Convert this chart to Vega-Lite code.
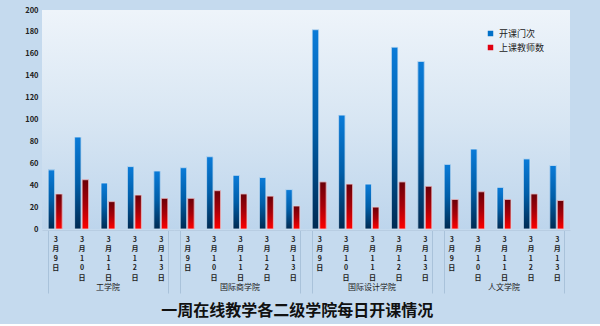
{
  "$schema": "https://vega.github.io/schema/vega-lite/v6.json",
  "background": "#c5daee",
  "padding": {"left": 24, "top": 6, "right": 31, "bottom": 5},
  "data": {"values": [
    {"college": "工学院", "date": "3月9日", "series": "开课门次", "value": 54},
    {"college": "工学院", "date": "3月9日", "series": "上课教师数", "value": 32},
    {"college": "工学院", "date": "3月10日", "series": "开课门次", "value": 84},
    {"college": "工学院", "date": "3月10日", "series": "上课教师数", "value": 45},
    {"college": "工学院", "date": "3月11日", "series": "开课门次", "value": 42},
    {"college": "工学院", "date": "3月11日", "series": "上课教师数", "value": 25},
    {"college": "工学院", "date": "3月12日", "series": "开课门次", "value": 57},
    {"college": "工学院", "date": "3月12日", "series": "上课教师数", "value": 31},
    {"college": "工学院", "date": "3月13日", "series": "开课门次", "value": 53},
    {"college": "工学院", "date": "3月13日", "series": "上课教师数", "value": 28},
    {"college": "国际商学院", "date": "3月9日", "series": "开课门次", "value": 56},
    {"college": "国际商学院", "date": "3月9日", "series": "上课教师数", "value": 28},
    {"college": "国际商学院", "date": "3月10日", "series": "开课门次", "value": 66},
    {"college": "国际商学院", "date": "3月10日", "series": "上课教师数", "value": 35},
    {"college": "国际商学院", "date": "3月11日", "series": "开课门次", "value": 49},
    {"college": "国际商学院", "date": "3月11日", "series": "上课教师数", "value": 32},
    {"college": "国际商学院", "date": "3月12日", "series": "开课门次", "value": 47},
    {"college": "国际商学院", "date": "3月12日", "series": "上课教师数", "value": 30},
    {"college": "国际商学院", "date": "3月13日", "series": "开课门次", "value": 36},
    {"college": "国际商学院", "date": "3月13日", "series": "上课教师数", "value": 21},
    {"college": "国际设计学院", "date": "3月9日", "series": "开课门次", "value": 182},
    {"college": "国际设计学院", "date": "3月9日", "series": "上课教师数", "value": 43},
    {"college": "国际设计学院", "date": "3月10日", "series": "开课门次", "value": 104},
    {"college": "国际设计学院", "date": "3月10日", "series": "上课教师数", "value": 41},
    {"college": "国际设计学院", "date": "3月11日", "series": "开课门次", "value": 41},
    {"college": "国际设计学院", "date": "3月11日", "series": "上课教师数", "value": 20},
    {"college": "国际设计学院", "date": "3月12日", "series": "开课门次", "value": 166},
    {"college": "国际设计学院", "date": "3月12日", "series": "上课教师数", "value": 43},
    {"college": "国际设计学院", "date": "3月13日", "series": "开课门次", "value": 153},
    {"college": "国际设计学院", "date": "3月13日", "series": "上课教师数", "value": 39},
    {"college": "人文学院", "date": "3月9日", "series": "开课门次", "value": 59},
    {"college": "人文学院", "date": "3月9日", "series": "上课教师数", "value": 27},
    {"college": "人文学院", "date": "3月10日", "series": "开课门次", "value": 73},
    {"college": "人文学院", "date": "3月10日", "series": "上课教师数", "value": 34},
    {"college": "人文学院", "date": "3月11日", "series": "开课门次", "value": 38},
    {"college": "人文学院", "date": "3月11日", "series": "上课教师数", "value": 27},
    {"college": "人文学院", "date": "3月12日", "series": "开课门次", "value": 64},
    {"college": "人文学院", "date": "3月12日", "series": "上课教师数", "value": 32},
    {"college": "人文学院", "date": "3月13日", "series": "开课门次", "value": 58},
    {"college": "人文学院", "date": "3月13日", "series": "上课教师数", "value": 26}
  ]},
  "facet": {
    "column": {
      "field": "college",
      "type": "nominal",
      "sort": ["工学院", "国际商学院", "国际设计学院", "人文学院"],
      "title": null,
      "header": {"labelOrient": "bottom", "labelFontSize": 8, "labelColor": "#222222", "labelPadding": -10}
    }
  },
  "spacing": 0,
  "spec": {
    "width": 132,
    "height": 219,
    "encoding": {
      "x": {
        "field": "date",
        "type": "nominal",
        "sort": ["3月9日", "3月10日", "3月11日", "3月12日", "3月13日"],
        "scale": {"paddingInner": 0.47, "paddingOuter": 0.235},
        "axis": {
          "title": null,
          "labelAngle": 0,
          "labelExpr": "split(datum.label, '')",
          "labelBaseline": "top",
          "labelLineHeight": 9.5,
          "labelFontSize": 7,
          "labelFontWeight": "bold",
          "labelColor": "#222222",
          "labelPadding": -58,
          "domainColor": "#b8cde2",
          "ticks": true,
          "tickBand": "extent",
          "tickSize": 63,
          "tickColor": "#a9c2da",
          "tickOpacity": {"condition": {"test": "datum.value != '3月9日' && datum.value != '3月10日' && datum.value != '3月11日' && datum.value != '3月12日'", "value": 1}, "value": 0},
          "grid": false
        }
      },
      "xOffset": {"field": "series", "type": "nominal", "sort": ["开课门次", "上课教师数"], "scale": {"domain": ["开课门次", "上课教师数"], "paddingInner": 0.14}},
      "y": {
        "field": "value",
        "type": "quantitative",
        "scale": {"domain": [0, 200]},
        "axis": {"title": null, "values": [0, 20, 40, 60, 80, 100, 120, 140, 160, 180, 200], "domain": false, "ticks": false, "grid": false, "labelFontSize": 7.5, "labelFontWeight": "bold", "labelColor": "#222222", "labelPadding": 4}
      }
    },
    "layer": [
      {
        "mark": {"type": "bar"},
        "encoding": {
          "color": {
            "field": "series",
            "type": "nominal",
            "sort": ["开课门次", "上课教师数"],
            "scale": {"domain": ["开课门次", "上课教师数"], "range": ["#0070c8", "#e00010"]},
            "legend": {"title": null, "orient": "none", "legendX": 444, "legendY": 19, "symbolType": "square", "symbolSize": 30, "symbolStrokeWidth": 0, "labelFontSize": 9, "labelColor": "#222222", "rowPadding": 4}
          }
        }
      },
      {
        "transform": [{"filter": "datum.series == '开课门次'"}],
        "mark": {"type": "bar", "stroke": "#d6e6f5", "strokeWidth": 0.8, "color": {"gradient": "linear", "x1": 0, "y1": 0, "x2": 0, "y2": 1, "stops": [{"offset": 0, "color": "#0a7bd8"}, {"offset": 0.5, "color": "#005ea8"}, {"offset": 1, "color": "#002a52"}]}},
        "encoding": {}
      },
      {
        "transform": [{"filter": "datum.series == '上课教师数'"}],
        "mark": {"type": "bar", "stroke": "#e8d0d8", "strokeWidth": 0.8, "color": {"gradient": "linear", "x1": 0, "y1": 0, "x2": 0, "y2": 1, "stops": [{"offset": 0, "color": "#6a0008"}, {"offset": 0.5, "color": "#a80008"}, {"offset": 1, "color": "#ff0000"}]}},
        "encoding": {}
      }
    ]
  },
  "title": {"text": "一周在线教学各二级学院每日开课情况", "orient": "bottom", "fontSize": 16, "fontWeight": "bold", "color": "#111111", "anchor": "middle", "offset": 9},
  "config": {
    "view": {"stroke": null, "fill": {"gradient": "linear", "x1": 0, "y1": 0, "x2": 0, "y2": 1, "stops": [{"offset": 0, "color": "#eef4fa"}, {"offset": 0.5, "color": "#d8e6f3"}, {"offset": 1, "color": "#bdd5ec"}]}},
    "font": "Noto Sans CJK SC"
  }
}
